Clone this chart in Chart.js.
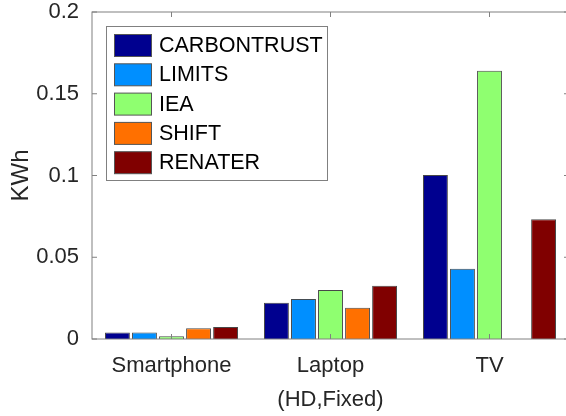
<!DOCTYPE html>
<html>
<head>
<meta charset="utf-8">
<script src="https://cdn.jsdelivr.net/npm/chart.js@4.4.1/dist/chart.umd.min.js"></script>
<style>
  html, body { margin: 0; padding: 0; background: #fff; overflow: hidden; }
  #wrap { position: relative; width: 580px; height: 416px; }
</style>
</head>
<body>
<div id="wrap"><canvas id="chart"></canvas></div>
<script>
// data
const categories = ["Smartphone", ["Laptop", "(HD,Fixed)"], "TV"];
const seriesNames = ["CARBONTRUST", "LIMITS", "IEA", "SHIFT", "RENATER"];
const seriesColors = ["#00008f", "#008fff", "#8fff70", "#ff7000", "#800000"];
const carbontrust = [0.0039, 0.0222, 0.1003];
const limits = [0.0039, 0.0245, 0.0430];
const iea = [0.0017, 0.0300, 0.1640];
const shift = [0.0065, 0.0191, null];
const renater = [0.0073, 0.0326, 0.0732];
const yTicks = [0, 0.05, 0.1, 0.15, 0.2];
const yTickLabels = ["0", "0.05", "0.1", "0.15", "0.2"];

const seriesValues = [carbontrust, limits, iea, shift, renater];
const FONT = "'Liberation Sans', Arial, Helvetica, sans-serif";
const TEXT = "#262626";
const AXIS = "#808080";

// axes box with inward ticks, matlab style
const framePlugin = {
  id: "frame",
  afterDatasetsDraw(chart) {
    const { ctx, chartArea: a, scales: { x, y } } = chart;
    ctx.save();
    ctx.strokeStyle = AXIS;
    ctx.lineWidth = 1;
    ctx.strokeRect(a.left, a.top, a.right - a.left, a.bottom - a.top);
    ctx.beginPath();
    yTicks.forEach((v) => {
      const py = y.getPixelForValue(v);
      ctx.moveTo(a.left, py); ctx.lineTo(a.left + 5, py);
      ctx.moveTo(a.right, py); ctx.lineTo(a.right - 5, py);
    });
    categories.forEach((c, i) => {
      const px = x.getPixelForValue(i);
      ctx.moveTo(px, a.bottom); ctx.lineTo(px, a.bottom - 5);
      ctx.moveTo(px, a.top); ctx.lineTo(px, a.top + 5);
    });
    ctx.stroke();
    ctx.restore();
  }
};

// legend in one column inside the axes
const boxLegend = {
  id: "boxLegend",
  afterDraw(chart) {
    const ctx = chart.ctx;
    ctx.save();
    ctx.fillStyle = "#fff";
    ctx.fillRect(106.5, 26.5, 221, 154);
    ctx.strokeStyle = AXIS;
    ctx.lineWidth = 1;
    ctx.strokeRect(106.5, 26.5, 221, 154);
    ctx.font = "21.5px " + FONT;
    ctx.textBaseline = "middle";
    chart.data.datasets.forEach((ds, i) => {
      const top = 34 + i * 29.3;
      ctx.fillStyle = ds.backgroundColor;
      ctx.fillRect(114.5, top + 0.5, 37, 22);
      ctx.strokeStyle = "#555";
      ctx.strokeRect(114.5, top + 0.5, 37, 22);
      ctx.fillStyle = "#000";
      ctx.fillText(ds.label, 159, top + 12);
    });
    ctx.restore();
  }
};

new Chart(document.getElementById("chart"), {
  type: "bar",
  data: {
    labels: categories,
    datasets: seriesNames.map((name, i) => ({
      label: name,
      data: seriesValues[i],
      backgroundColor: seriesColors[i],
      borderColor: "rgba(40,40,40,0.85)",
      borderWidth: 1,
      categoryPercentage: 0.85,
      barPercentage: 0.92
    }))
  },
  options: {
    responsive: true,
    maintainAspectRatio: false,
    animation: false,
    layout: { padding: { top: 12, right: 11, bottom: 0, left: 0 } },
    plugins: {
      legend: { display: false },
      tooltip: { enabled: false }
    },
    scales: {
      x: {
        grid: { display: false, drawTicks: false },
        border: { display: false },
        afterFit(scale) { scale.height = 77; },
        ticks: {
          color: TEXT,
          padding: 10,
          maxRotation: 0,
          autoSkip: false,
          font: { family: FONT, size: 22, lineHeight: 1.53 }
        }
      },
      y: {
        min: 0,
        max: 0.2,
        grid: { display: false, drawTicks: false },
        border: { display: false },
        afterFit(scale) {
          scale.width = 92;
          scale.paddingTop = 0; // no extra room above the axes, layout padding does it
          scale.paddingBottom = 0;
        },
        afterBuildTicks(scale) { scale.ticks = yTicks.map((v) => ({ value: v })); },
        ticks: {
          color: TEXT,
          padding: 13,
          font: { family: FONT, size: 22, lineHeight: 1 },
          callback(value, index) { return yTickLabels[index]; }
        },
        title: {
          display: true,
          text: "KWh",
          color: TEXT,
          padding: { top: 7, bottom: 0 },
          font: { family: FONT, size: 24 }
        }
      }
    }
  },
  plugins: [framePlugin, boxLegend]
});
</script>
</body>
</html>
